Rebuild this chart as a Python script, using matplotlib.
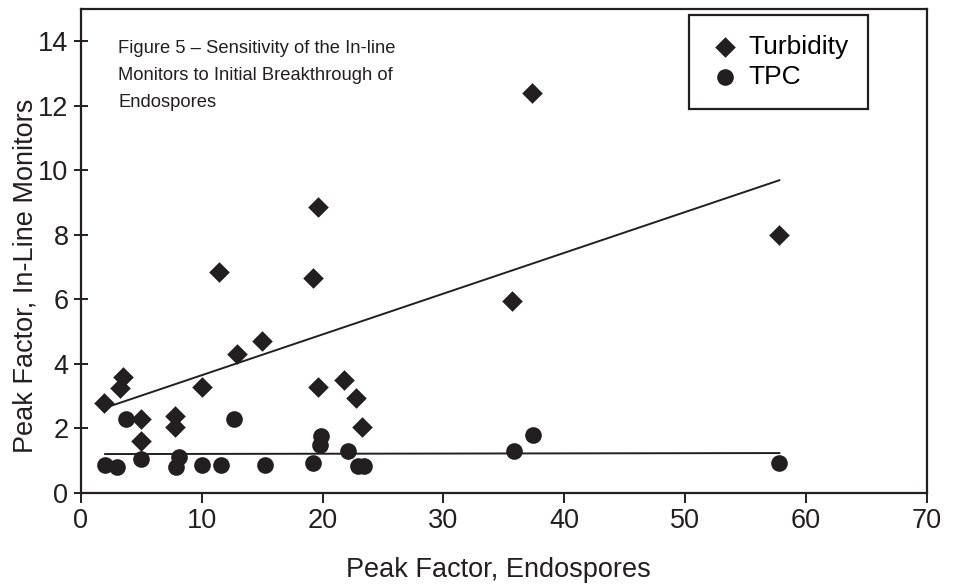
import matplotlib

matplotlib.use("Agg")
import matplotlib.pyplot as plt
import numpy as np

# values
turb_x = [1.9, 3.2, 3.5, 5.0, 5.0, 7.8, 7.8, 10.0, 11.4, 12.9,
          15.0, 19.2, 19.6, 19.6, 21.8, 22.8, 23.3, 35.7, 37.3, 57.8]
turb_y = [2.8, 3.25, 3.6, 2.3, 1.6, 2.4, 2.05, 3.3, 6.85, 4.3,
          4.7, 6.65, 8.85, 3.3, 3.5, 2.95, 2.05, 5.95, 12.4, 8.0]

tpc_x = [2.0, 2.95, 3.7, 5.0, 7.85, 8.1, 10.0, 11.6, 12.7, 15.2,
         19.2, 19.8, 19.9, 22.1, 22.9, 23.4, 35.8, 37.4, 57.8]
tpc_y = [0.87, 0.82, 2.3, 1.05, 0.82, 1.13, 0.87, 0.87, 2.3, 0.87,
         0.92, 1.5, 1.78, 1.3, 0.84, 0.84, 1.3, 1.8, 0.92]

x_ticks = list(range(0, 71, 10))
y_ticks = list(range(0, 15, 2))

caption = ("Figure 5 \u2013 Sensitivity of the In-line\n"
           "Monitors to Initial Breakthrough of\n"
           "Endospores")

INK = "#231f20"
plt.rcParams["font.family"] = ["Liberation Sans", "DejaVu Sans"]

fig = plt.figure(figsize=(9.56, 5.86), dpi=100)
ax = fig.add_axes([0.0847, 0.1587, 0.8847, 0.8259])

ax.scatter(turb_x, turb_y, marker="D", s=10.5 ** 2, color=INK,
           linewidths=0, label="Turbidity", zorder=3)
ax.scatter(tpc_x, tpc_y, marker="o", s=12 ** 2, color=INK,
           linewidths=0, label="TPC", zorder=3)

# linear trend lines over the span of each series
for xs, ys in ((turb_x, turb_y), (tpc_x, tpc_y)):
    k, b = np.polyfit(xs, ys, 1)
    xx = np.array([min(xs), max(xs)])
    ax.plot(xx, k * xx + b, color=INK, lw=1.4, zorder=2)

ax.set_xlim(0, 70)
ax.set_ylim(0, 15)
ax.set_xticks(x_ticks)
ax.set_yticks(y_ticks)
ax.tick_params(axis="x", direction="out", length=7, width=1.4,
               labelsize=19.5, pad=4, colors=INK)
ax.tick_params(axis="y", direction="inout", length=10, width=1.4,
               labelsize=19.5, pad=4, colors=INK)
for sp in ax.spines.values():
    sp.set_linewidth(1.6)
    sp.set_color(INK)

ax.set_xlabel("Peak Factor, Endospores", fontsize=19.5, color=INK)
ax.set_ylabel("Peak Factor, In-Line Monitors", fontsize=19.5, color=INK)
ax.xaxis.set_label_coords(0.494, -0.133)
ax.yaxis.set_label_coords(-0.05, 0.448)

ax.text(0.044, 0.937, caption, transform=ax.transAxes, ha="left", va="top",
        fontsize=13.2, linespacing=1.8, color=INK)

leg = ax.legend(loc="upper right", bbox_to_anchor=(0.931, 0.988),
                fontsize=19, frameon=True, fancybox=False, framealpha=1,
                borderpad=0.75, handletextpad=0.3, labelspacing=0.25,
                handlelength=1.2, borderaxespad=0, markerscale=1.0)
leg.get_frame().set_edgecolor(INK)
leg.get_frame().set_linewidth(1.6)

fig.savefig("out.png", dpi=100)
